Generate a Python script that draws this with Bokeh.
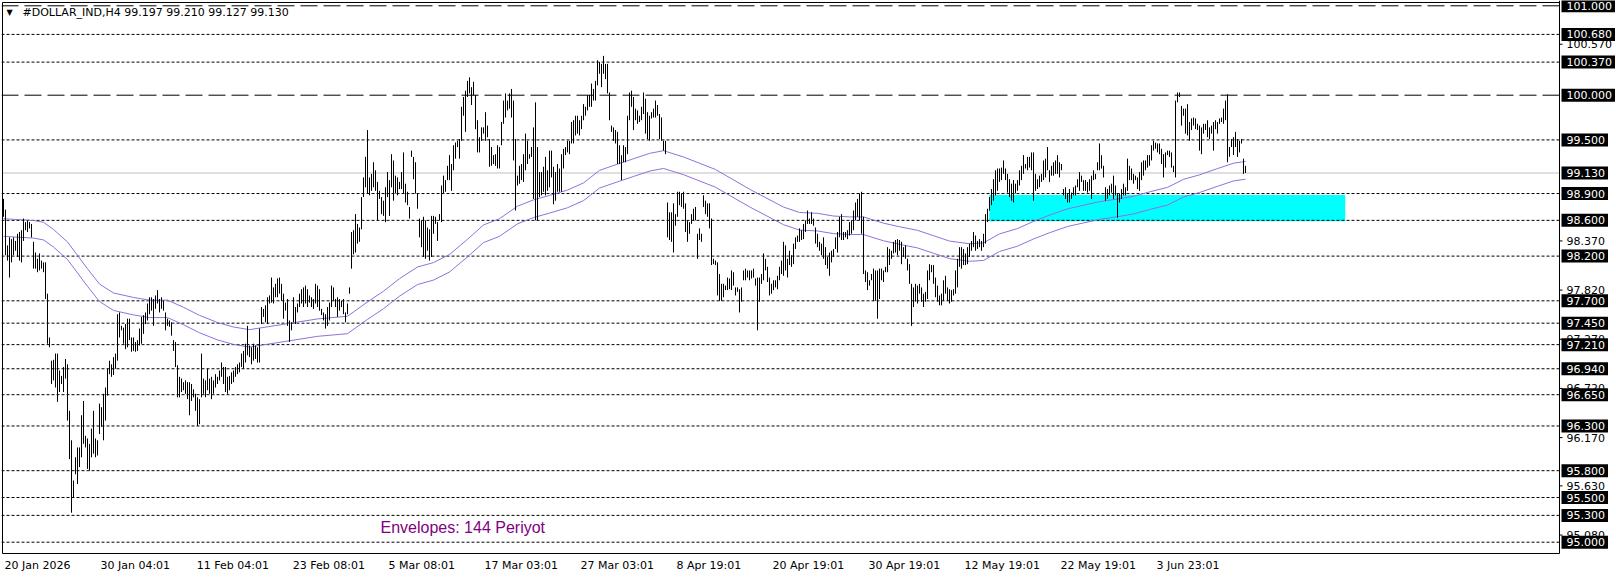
from bokeh.plotting import figure
from bokeh.models import Range1d, FixedTicker, ColumnDataSource
from bokeh.core.properties import value
from bokeh.embed import file_html
from bokeh.resources import INLINE

# ---------------- data (H4 bars) ----------------
highs = [
    98.84, 98.72, 98.32, 98.41, 98.39, 98.41, 98.37, 98.45, 98.47, 98.49,
    98.62, 98.58, 98.60, 98.58, 98.56, 98.36, 98.24, 98.17, 98.23, 98.15,
    98.13, 98.13, 97.78, 97.29, 97.03, 97.04, 97.11, 97.11, 96.92, 96.86,
    96.96, 97.05, 96.99, 96.47, 96.14, 95.69, 95.95, 96.06, 96.06, 96.42,
    96.58, 96.19, 96.16, 96.10, 96.27, 96.47, 96.16, 96.14, 96.55, 96.51,
    96.66, 96.73, 96.94, 97.03, 96.99, 97.07, 97.11, 97.55, 97.57, 97.42,
    97.40, 97.44, 97.50, 97.50, 97.29, 97.29, 97.24, 97.26, 97.39, 97.52,
    97.54, 97.57, 97.67, 97.74, 97.74, 97.72, 97.76, 97.82, 97.72, 97.74,
    97.70, 97.57, 97.50, 97.48, 97.46, 97.26, 97.24, 96.98, 96.85, 96.83,
    96.79, 96.81, 96.79, 96.79, 96.77, 96.71, 96.66, 96.62, 96.60, 97.11,
    96.83, 96.81, 96.94, 96.83, 96.85, 96.81, 96.88, 96.85, 96.92, 97.01,
    96.96, 96.96, 96.85, 96.86, 96.90, 96.92, 96.96, 96.99, 97.01, 97.11,
    97.14, 97.22, 97.42, 97.20, 97.18, 97.22, 97.20, 97.18, 97.39, 97.63,
    97.61, 97.65, 97.74, 97.76, 97.96, 97.85, 97.89, 97.95, 97.96, 97.89,
    97.78, 97.68, 97.72, 97.48, 97.46, 97.74, 97.63, 97.67, 97.78, 97.83,
    97.85, 97.87, 97.83, 97.76, 97.74, 97.72, 97.89, 97.87, 97.83, 97.61,
    97.57, 97.55, 97.63, 97.68, 97.87, 97.85, 97.72, 97.74, 97.72, 97.70,
    97.72, 97.57, 97.67, 97.85, 98.47, 98.49, 98.67, 98.56, 98.52, 98.86,
    99.08, 99.31, 99.61, 99.08, 99.12, 99.25, 99.16, 99.03, 98.93, 98.86,
    98.82, 98.97, 99.14, 99.05, 99.34, 99.27, 99.10, 99.08, 99.03, 99.14,
    99.36, 99.01, 98.92, 98.75, 99.38, 99.31, 99.25, 98.90, 98.62, 98.60,
    98.64, 98.60, 98.52, 98.50, 98.65, 98.65, 98.64, 98.58, 98.67, 98.99,
    99.10, 99.05, 99.21, 99.33, 99.23, 99.44, 99.47, 99.49, 99.51, 99.87,
    99.98, 100.05, 100.16, 100.20, 100.09, 100.15, 100.00, 99.72, 99.53, 99.64,
    99.64, 99.81, 99.66, 99.51, 99.42, 99.33, 99.34, 99.44, 99.42, 99.70,
    99.94, 100.02, 99.94, 100.02, 100.07, 99.94, 99.51, 99.10, 99.21, 99.23,
    99.34, 99.57, 99.49, 99.34, 99.42, 99.64, 99.92, 99.42, 99.14, 99.14,
    99.20, 99.31, 99.16, 99.38, 99.38, 99.20, 99.14, 99.23, 99.18, 99.34,
    99.40, 99.42, 99.49, 99.49, 99.70, 99.72, 99.77, 99.77, 99.72, 99.77,
    99.90, 99.87, 100.00, 100.00, 100.13, 100.07, 100.16, 100.39, 100.37, 100.35,
    100.44, 100.35, 100.35, 100.03, 99.66, 99.64, 99.61, 99.59, 99.44, 99.33,
    99.44, 99.42, 99.77, 100.03, 100.05, 99.98, 99.85, 99.83, 99.77, 99.87,
    100.03, 99.96, 99.81, 99.77, 99.81, 99.85, 99.94, 99.89, 99.79, 99.75,
    99.49, 99.49, 98.80, 98.69, 98.69, 98.79, 98.67, 98.92, 98.92, 98.90,
    98.92, 98.79, 98.60, 98.58, 98.67, 98.73, 98.75, 98.45, 98.51, 98.45,
    98.88, 98.82, 98.79, 98.79, 98.62, 98.17, 98.15, 98.13, 98.00, 97.89,
    97.89, 97.87, 97.96, 97.95, 98.04, 98.02, 97.85, 97.85, 97.83, 97.85,
    98.04, 98.06, 98.04, 98.04, 98.04, 98.06, 97.95, 97.96, 97.96, 98.00,
    98.23, 98.17, 98.08, 97.96, 97.89, 97.93, 97.93, 97.98, 98.08, 98.15,
    98.36, 98.32, 98.17, 98.26, 98.21, 98.34, 98.41, 98.43, 98.51, 98.49,
    98.56, 98.60, 98.71, 98.62, 98.69, 98.62, 98.52, 98.45, 98.36, 98.34,
    98.41, 98.30, 98.19, 98.24, 98.26, 98.28, 98.41, 98.47, 98.64, 98.67,
    98.47, 98.47, 98.49, 98.58, 98.60, 98.71, 98.80, 98.84, 98.90, 98.92,
    98.64, 98.04, 98.02, 97.93, 98.00, 98.06, 98.04, 98.04, 98.06, 98.06,
    98.04, 98.08, 98.30, 98.28, 98.26, 98.36, 98.38, 98.39, 98.38, 98.36,
    98.30, 98.32, 98.17, 98.11, 97.89, 97.85, 97.89, 97.87, 97.89, 97.85,
    97.78, 97.80, 98.04, 98.11, 98.10, 98.10, 97.96, 97.87, 97.76, 97.78,
    97.93, 97.98, 97.85, 97.83, 97.82, 97.83, 98.04, 98.17, 98.30, 98.30,
    98.28, 98.23, 98.30, 98.34, 98.37, 98.47, 98.43, 98.37, 98.39, 98.37,
    98.45, 98.67, 98.73, 98.86, 98.95, 99.06, 99.16, 99.18, 99.18, 99.19,
    99.27, 99.18, 99.12, 99.06, 99.01, 99.05, 99.01, 99.05, 99.16, 99.21,
    99.33, 99.23, 99.31, 99.31, 99.36, 99.36, 99.12, 99.06, 99.10, 99.12,
    99.27, 99.29, 99.42, 99.16, 99.21, 99.25, 99.27, 99.33, 99.25, 99.23,
    98.95, 98.97, 98.90, 98.95, 98.91, 98.97, 98.99, 99.06, 99.14, 99.10,
    99.05, 99.05, 99.03, 99.06, 99.10, 99.16, 99.12, 99.25, 99.46, 99.33,
    99.21, 98.97, 98.95, 98.99, 99.01, 99.10, 98.99, 98.90, 98.90, 98.95,
    99.01, 98.97, 99.29, 99.21, 99.18, 99.12, 99.10, 99.08, 99.14, 99.25,
    99.27, 99.27, 99.33, 99.33, 99.44, 99.49, 99.47, 99.46, 99.46, 99.40,
    99.34, 99.36, 99.38, 99.38, 99.36, 99.21, 99.94, 100.03, 100.03, 99.88,
    99.85, 99.85, 99.90, 99.70, 99.74, 99.75, 99.74, 99.68, 99.66, 99.64,
    99.68, 99.68, 99.72, 99.64, 99.66, 99.70, 99.72, 99.70, 99.74, 99.75,
    99.85, 99.94, 100.01, 99.42, 99.51, 99.53, 99.59, 99.51, 99.49, 99.51,
    99.29, 99.21,
]
lows = [
    98.64, 98.21, 98.15, 97.96, 98.13, 98.21, 98.26, 98.19, 98.15, 98.13,
    98.37, 98.49, 98.47, 98.51, 98.41, 98.06, 98.06, 98.02, 98.04, 98.06,
    98.02, 97.72, 97.22, 97.18, 96.77, 96.81, 96.73, 96.57, 96.68, 96.77,
    96.68, 96.83, 96.36, 95.93, 95.33, 95.50, 95.76, 95.65, 95.84, 95.95,
    96.10, 96.06, 95.82, 95.80, 95.95, 95.99, 95.95, 95.97, 96.21, 96.29,
    96.14, 96.36, 96.64, 96.88, 96.85, 96.87, 96.94, 97.03, 97.29, 97.37,
    97.22, 97.16, 97.18, 97.26, 97.13, 97.14, 97.13, 97.14, 97.20, 97.22,
    97.33, 97.44, 97.48, 97.55, 97.59, 97.42, 97.61, 97.67, 97.57, 97.61,
    97.59, 97.37, 97.42, 97.41, 97.31, 97.14, 96.96, 96.62, 96.62, 96.68,
    96.70, 96.66, 96.60, 96.42, 96.58, 96.62, 96.47, 96.30, 96.32, 96.62,
    96.66, 96.62, 96.70, 96.66, 96.60, 96.66, 96.73, 96.77, 96.81, 96.85,
    96.77, 96.68, 96.66, 96.70, 96.77, 96.79, 96.85, 96.88, 96.90, 96.96,
    96.94, 97.01, 97.09, 97.07, 96.99, 97.03, 97.05, 97.01, 97.01, 97.44,
    97.52, 97.46, 97.44, 97.67, 97.68, 97.67, 97.74, 97.74, 97.78, 97.70,
    97.50, 97.59, 97.42, 97.24, 97.37, 97.46, 97.44, 97.57, 97.63, 97.67,
    97.63, 97.67, 97.63, 97.68, 97.63, 97.61, 97.67, 97.63, 97.59, 97.54,
    97.48, 97.39, 97.42, 97.48, 97.63, 97.70, 97.63, 97.52, 97.59, 97.63,
    97.55, 97.46, 97.55, 97.78, 98.06, 98.22, 98.24, 98.34, 98.36, 98.50,
    98.86, 98.97, 98.90, 98.88, 98.93, 98.97, 98.93, 98.60, 98.84, 98.67,
    98.65, 98.58, 98.86, 98.65, 98.97, 98.82, 98.90, 98.88, 98.95, 98.95,
    98.90, 98.80, 98.77, 98.62, 99.31, 99.06, 98.90, 98.73, 98.41, 98.30,
    98.19, 98.17, 98.26, 98.15, 98.19, 98.45, 98.56, 98.37, 98.60, 98.58,
    98.90, 98.92, 99.05, 99.05, 98.93, 99.16, 99.29, 99.42, 99.29, 99.49,
    99.77, 99.59, 99.98, 100.02, 99.89, 100.00, 99.62, 99.36, 99.36, 99.49,
    99.57, 99.49, 99.53, 99.20, 99.21, 99.23, 99.21, 99.18, 99.18, 99.44,
    99.68, 99.75, 99.83, 99.85, 99.75, 99.27, 98.71, 98.99, 99.01, 99.05,
    99.03, 99.16, 99.23, 99.29, 99.31, 98.84, 98.60, 98.60, 98.86, 98.88,
    98.92, 98.88, 98.93, 98.97, 99.08, 98.78, 98.82, 98.92, 98.92, 98.92,
    99.18, 99.33, 99.36, 99.34, 99.46, 99.46, 99.55, 99.57, 99.55, 99.62,
    99.72, 99.77, 99.83, 99.87, 99.87, 99.94, 99.94, 100.11, 100.24, 100.09,
    100.24, 100.18, 100.02, 99.72, 99.59, 99.49, 99.46, 99.23, 99.23, 99.05,
    99.25, 99.25, 99.34, 99.72, 99.87, 99.61, 99.72, 99.68, 99.70, 99.72,
    99.79, 99.57, 99.51, 99.49, 99.74, 99.75, 99.75, 99.77, 99.51, 99.49,
    99.38, 99.34, 98.41, 98.38, 98.36, 98.24, 98.54, 98.64, 98.77, 98.75,
    98.73, 98.47, 98.36, 98.45, 98.56, 98.60, 98.60, 98.17, 98.38, 98.36,
    98.75, 98.67, 98.64, 98.51, 98.10, 98.11, 98.10, 97.76, 97.70, 97.70,
    97.74, 97.82, 97.82, 97.83, 97.82, 97.87, 97.76, 97.80, 97.57, 97.69,
    97.93, 97.93, 97.96, 97.93, 97.95, 97.96, 97.87, 97.37, 97.69, 97.89,
    97.93, 98.04, 97.91, 97.76, 97.78, 97.82, 97.85, 97.83, 97.93, 98.00,
    97.98, 98.04, 97.96, 98.10, 98.08, 98.11, 98.28, 98.36, 98.36, 98.38,
    98.39, 98.47, 98.56, 98.56, 98.56, 98.54, 98.34, 98.30, 98.26, 98.21,
    98.17, 98.10, 98.06, 97.98, 98.13, 98.19, 98.28, 98.24, 98.41, 98.38,
    98.38, 98.41, 98.39, 98.43, 98.45, 98.49, 98.60, 98.64, 98.60, 98.45,
    98.00, 97.91, 97.82, 97.87, 97.93, 97.70, 97.70, 97.50, 97.72, 97.93,
    97.91, 98.02, 98.02, 98.10, 98.17, 98.23, 98.24, 98.21, 98.26, 98.11,
    98.19, 98.17, 98.04, 97.89, 97.42, 97.63, 97.69, 97.67, 97.78, 97.69,
    97.63, 97.69, 97.72, 97.93, 98.02, 97.89, 97.74, 97.69, 97.65, 97.65,
    97.70, 97.78, 97.70, 97.67, 97.69, 97.76, 97.78, 97.85, 98.08, 98.06,
    98.10, 98.10, 98.11, 98.19, 98.26, 98.30, 98.26, 98.28, 98.30, 98.26,
    98.30, 98.34, 98.58, 98.71, 98.77, 98.82, 98.88, 98.93, 99.03, 99.05,
    99.12, 99.05, 98.91, 98.86, 98.82, 98.80, 98.90, 98.93, 98.99, 99.05,
    99.12, 99.18, 99.16, 99.19, 99.16, 98.82, 98.93, 98.95, 98.97, 99.03,
    99.05, 99.08, 99.16, 99.03, 99.10, 99.10, 99.12, 99.12, 99.08, 99.16,
    98.88, 98.84, 98.80, 98.80, 98.84, 98.88, 98.88, 98.97, 98.93, 99.03,
    98.93, 98.93, 98.91, 98.93, 98.84, 99.05, 99.06, 99.16, 99.16, 99.18,
    99.08, 98.82, 98.84, 98.88, 98.91, 98.84, 98.88, 98.63, 98.80, 98.84,
    98.88, 98.88, 98.93, 99.05, 99.05, 99.01, 99.05, 98.95, 98.93, 99.05,
    99.10, 99.16, 99.19, 99.21, 99.27, 99.38, 99.40, 99.36, 99.34, 99.23,
    99.08, 99.19, 99.33, 99.31, 99.19, 99.14, 99.08, 99.92, 99.98, 99.66,
    99.77, 99.57, 99.55, 99.49, 99.61, 99.66, 99.62, 99.61, 99.38, 99.34,
    99.57, 99.61, 99.53, 99.51, 99.57, 99.38, 99.62, 99.57, 99.68, 99.70,
    99.68, 99.72, 99.25, 99.31, 99.42, 99.33, 99.42, 99.31, 99.36, 99.46,
    99.12, 99.13,
]

# Envelopes(144) middle line, sampled at bar positions, and deviation in percent
ma_bars = [0, 15, 20, 25, 32, 37, 42, 48, 55, 65, 73, 82, 90, 98, 107, 115, 123, 140, 157, 172,
           182, 190, 198, 207, 215, 223, 232, 240, 248, 257, 265, 273, 282, 290, 298, 307, 315, 323, 330, 340,
           356, 373, 390, 398, 407, 415, 423, 430, 440, 448, 457, 465, 473, 483, 490, 498, 507, 515, 523, 532,
           540, 548, 557, 565, 573, 582, 590, 598, 607, 615, 621]
ma_vals = [98.52, 98.50, 98.48, 98.40, 98.26, 98.11, 97.96, 97.79, 97.69, 97.64, 97.61, 97.61, 97.53, 97.44, 97.36, 97.31, 97.28, 97.34, 97.40, 97.43,
           97.59, 97.71, 97.85, 97.98, 98.03, 98.12, 98.29, 98.45, 98.52, 98.66, 98.73, 98.78, 98.84, 98.92, 99.06, 99.13, 99.19, 99.25, 99.28, 99.21,
           99.07, 98.85, 98.65, 98.59, 98.58, 98.55, 98.54, 98.54, 98.47, 98.43, 98.39, 98.33, 98.27, 98.24, 98.25, 98.35, 98.41, 98.49, 98.56, 98.63,
           98.67, 98.71, 98.74, 98.77, 98.82, 98.87, 98.96, 99.01, 99.08, 99.14, 99.16]
env_dev_pct = 0.1

dotted_levels = [100.68, 100.37, 99.5, 98.9, 98.6, 98.2, 97.7, 97.45, 97.21, 96.94, 96.65, 96.3, 95.8, 95.5, 95.3, 95.0]
dashed_levels = [101.0, 100.0]
bid_price = 99.13

zone_bars = [492.85, 670.85]
zone_prices = [98.59, 98.885]

axis_ticks = [100.57, 98.37, 97.82, 97.27, 96.72, 96.17, 95.63, 95.08]

date_bars = [0, 48, 96, 144, 192, 240, 288, 336, 384, 432, 480, 528, 576]
date_labels = ["20 Jan 2026", "30 Jan 04:01", "11 Feb 04:01", "23 Feb 08:01", "5 Mar 08:01",
               "17 Mar 03:01", "27 Mar 03:01", "8 Apr 19:01", "20 Apr 19:01", "30 Apr 19:01",
               "12 May 19:01", "22 May 19:01", "3 Jun 23:01"]

title_text = "#DOLLAR_IND,H4  99.197 99.210 99.127 99.130"
legend_text = "Envelopes: 144 Periyot"

# ---------------- layout (canvas pixels) ----------------
FONT = "DejaVu Sans"
W, H = 1616, 576
FL, FT = 1, 0                 # frame left / top
FW = W - FL                   # frame reaches the right edge (price scale drawn inside)
FH = 554                      # frame bottom at 554
AXIS_PX = 1559                # price-scale line
BOTTOM_PX = 553               # time-scale line
PX_PER_PT = 89.4
X0 = -1.0                     # bar 0 at pixel 3, 2 px per bar
x_range = Range1d(X0, X0 + FW / 2.0)
Y_TOP = 101.0 + 5.3 / PX_PER_PT
y_range = Range1d(Y_TOP - FH / PX_PER_PT, Y_TOP)

def px_x(px):
    return X0 + (px - FL) / 2.0

def py_y(py):
    return Y_TOP - (py - FT) / PX_PER_PT

p = figure(frame_width=FW, frame_height=FH, x_range=x_range, y_range=y_range,
           output_backend="svg", toolbar_location=None, y_axis_location=None,
           min_border_left=FL, min_border_top=FT, min_border_right=0, min_border_bottom=H - FT - FH,
           background_fill_color="white", border_fill_color="white")
p.outline_line_color = None
p.grid.visible = False

# bottom time axis (labels start at their bar, as in MT4)
cw = {" ": 3.5, ":": 3.7, "J": 3.2, "a": 6.7, "n": 7.0, "F": 6.3, "e": 6.8, "b": 7.0,
      "M": 9.5, "r": 4.5, "A": 7.5, "p": 7.0, "y": 6.5, "u": 7.0, ".": 3.5}
def text_w(s):
    return sum(cw.get(c, 7.0) for c in s)
tick_pos = [round(b + (1.0 + text_w(s) / 2.0) / 2.0, 2) for b, s in zip(date_bars, date_labels)]
xa = p.xaxis[0]
xa.ticker = FixedTicker(ticks=tick_pos)
xa.major_label_overrides = {t: s for t, s in zip(tick_pos, date_labels)}
xa.major_tick_out = 0
xa.major_tick_in = 0
xa.minor_tick_out = 0
xa.minor_tick_in = 0
xa.major_label_standoff = 4
xa.major_label_text_font = FONT
xa.major_label_text_font_size = "11px"
xa.major_label_text_color = "black"
xa.axis_line_color = None

x_left, x_axis = x_range.start, px_x(AXIS_PX)
y_bottom = py_y(BOTTOM_PX)

# support zone
p.quad(left=[zone_bars[0]], right=[zone_bars[1]], bottom=[zone_prices[0]], top=[zone_prices[1]],
       fill_color="#00FFFF", line_color=None)

# bid line
p.segment(x0=[x_left], x1=[x_axis], y0=[bid_price], y1=[bid_price], line_color="#C0C0C0", line_width=1)

# horizontal levels
p.segment(x0=[x_left] * len(dotted_levels), x1=[x_axis] * len(dotted_levels),
          y0=dotted_levels, y1=dotted_levels, line_color="black", line_width=1, line_dash="3 2")
p.segment(x0=[x_left] * len(dashed_levels), x1=[x_axis] * len(dashed_levels),
          y0=dashed_levels, y1=dashed_levels, line_color="black", line_width=1, line_dash="17 6")

# envelopes
upper = [v * (1 + env_dev_pct / 100.0) for v in ma_vals]
lower = [v * (1 - env_dev_pct / 100.0) for v in ma_vals]
p.line(ma_bars, upper, line_color="#9370DB", line_width=1)
p.line(ma_bars, lower, line_color="#9370DB", line_width=1)

# price bars
src = ColumnDataSource(dict(x=list(range(len(highs))), high=highs, low=lows))
p.segment(x0="x", x1="x", y0="low", y1="high", source=src, line_color="black", line_width=1)

# chart border and price scale line
p.segment(x0=[px_x(2), px_x(2), px_x(2), x_axis], x1=[x_axis, x_axis, px_x(2), x_axis],
          y0=[py_y(2), y_bottom, py_y(2), y_range.end], y1=[py_y(2), y_bottom, y_bottom, y_bottom],
          line_color="black", line_width=1)

# price scale ticks and labels
p.segment(x0=[x_axis] * len(axis_ticks), x1=[px_x(AXIS_PX + 3)] * len(axis_ticks),
          y0=axis_ticks, y1=axis_ticks, line_color="black", line_width=1)
p.text(x=[px_x(AXIS_PX + 7)] * len(axis_ticks), y=axis_ticks, text=[f"{t:.3f}" for t in axis_ticks],
       text_color="black", text_font=value(FONT), text_font_size="11px",
       text_baseline="middle", text_align="left")

# level price boxes
box_levels = dotted_levels + dashed_levels + [bid_price]
box_texts = [f"{lvl:.3f}" for lvl in box_levels]
half_h = 6.5 / PX_PER_PT
p.quad(left=[px_x(AXIS_PX + 2)] * len(box_levels),
       right=[px_x(AXIS_PX + 7 + text_w(t) + 3) for t in box_texts],
       bottom=[lvl - half_h for lvl in box_levels], top=[lvl + half_h for lvl in box_levels],
       fill_color="black", line_color=None)
p.text(x=[px_x(AXIS_PX + 7)] * len(box_levels), y=box_levels, text=box_texts,
       text_color="white", text_font=value(FONT), text_font_size="11px",
       text_baseline="middle", text_align="left")

# chart header
p.text(x=[px_x(6)], y=[py_y(12)], text=["\u25BC"], text_color="black", text_font=value(FONT),
       text_font_size="8px", text_baseline="middle", text_align="left")
p.text(x=[px_x(22)], y=[py_y(12)], text=[title_text], text_color="black", text_font=value(FONT),
       text_font_size="11px", text_baseline="middle", text_align="left")

# indicator label
p.text(x=[px_x(380)], y=[py_y(527)], text=[legend_text], text_color="#800080",
       text_font=value("Liberation Sans"), text_font_size="16px",
       text_baseline="middle", text_align="left")

open("out.html", "w").write(file_html(p, INLINE))
